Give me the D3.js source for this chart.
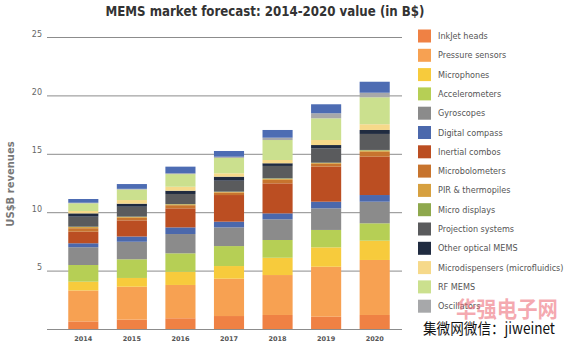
<html>
<head>
    <script src="https://d3js.org/d3.v7.min.js" charSet="utf-8"></script>
    <style>
        body { margin: 0; background: #fff; }
        .title { font-family: "DejaVu Sans", sans-serif; font-weight: bold; font-size: 14px; fill: #333; }
        .tick-label { font-family: "DejaVu Sans", sans-serif; font-size: 8px; fill: #666; }
        .year-label { font-family: "DejaVu Sans", sans-serif; font-weight: bold; font-size: 6.5px; fill: #555; }
        .axis-title { font-family: "DejaVu Sans", sans-serif; font-weight: bold; font-size: 10px; fill: #777; }
        .legend text { font-family: "DejaVu Sans", sans-serif; font-size: 8.1px; fill: #555; }
    </style>
</head>
<body>
<div id="vis_container"></div>
<script>
    // years on the x axis
    let years = ["2014", "2015", "2016", "2017", "2018", "2019", "2020"];

    // revenue per segment in B$, one array per series (bottom of the stack first)
    let inkjet_heads      = [0.65, 0.80, 0.92, 1.11, 1.20, 1.05, 1.20];
    let pressure_sensors  = [2.65, 2.82, 2.85, 3.20, 3.42, 4.28, 4.71];
    let microphones       = [0.75, 0.75, 1.13, 1.08, 1.48, 1.66, 1.65];
    let accelerometers    = [1.43, 1.60, 1.58, 1.71, 1.52, 1.49, 1.49];
    let gyroscopes        = [1.52, 1.50, 1.65, 1.60, 1.77, 1.85, 1.85];
    let digital_compass   = [0.34, 0.45, 0.57, 0.49, 0.51, 0.57, 0.57];
    let inertial_combos   = [0.99, 1.38, 1.63, 2.28, 2.57, 3.00, 3.28];
    let microbolometers   = [0.30, 0.22, 0.27, 0.20, 0.30, 0.24, 0.42];
    let pir_thermopiles   = [0.10, 0.07, 0.07, 0.06, 0.09, 0.07, 0.11];
    let micro_displays    = [0.03, 0.03, 0.03, 0.03, 0.04, 0.03, 0.05];
    let projection        = [0.86, 0.85, 0.86, 0.94, 1.06, 1.23, 1.37];
    let other_optical     = [0.28, 0.26, 0.28, 0.34, 0.23, 0.28, 0.34];
    let microdispensers   = [0.20, 0.31, 0.34, 0.29, 0.28, 0.43, 0.49];
    let rf_mems           = [0.66, 0.90, 1.08, 1.32, 1.71, 1.86, 2.31];
    let oscillators       = [0.05, 0.06, 0.07, 0.10, 0.20, 0.43, 0.39];
    let others            = [0.32, 0.41, 0.57, 0.49, 0.66, 0.77, 0.94]; // legend row hidden by watermark

    let series_names = ["InkJet heads", "Pressure sensors", "Microphones", "Accelerometers",
        "Gyroscopes", "Digital compass", "Inertial combos", "Microbolometers",
        "PIR & thermopiles", "Micro displays", "Projection systems", "Other optical MEMS",
        "Microdispensers (microfluidics)", "RF MEMS", "Oscillators", "Others"];
    let series_values = [inkjet_heads, pressure_sensors, microphones, accelerometers,
        gyroscopes, digital_compass, inertial_combos, microbolometers,
        pir_thermopiles, micro_displays, projection, other_optical,
        microdispensers, rf_mems, oscillators, others];
    let y_ticks = [5, 10, 15, 20, 25];

    let colors = ["#ef8144", "#f7a152", "#f7cb3c", "#b6cf55", "#8b8b8b", "#4b68ac",
        "#bb4e22", "#c7742e", "#d6a040", "#8ea84d", "#5a5b5d", "#202b40",
        "#f6d98a", "#cbe08e", "#a7a8aa", "#4d6cb3"];

    let width = 565, height = 344;

    let svg = d3.select("#vis_container")
        .append("svg")
        .attr("width", width)
        .attr("height", height);

    // build the table for d3.stack
    let table = years.map(function(y, i) {
        let row = {year: y};
        series_names.forEach(function(name, j) { row[name] = series_values[j][i]; });
        return row;
    });
    let stacked = d3.stack().keys(series_names)(table);

    let x = d3.scaleBand()
        .domain(years)
        .range([60, 398])
        .paddingInner(0.38)
        .paddingOuter(0.17);

    let y = d3.scaleLinear()
        .domain([0, 25])
        .range([329, 37]);

    // title
    svg.append("text")
        .attr("class", "title")
        .attr("x", 265)
        .attr("y", 16)
        .attr("text-anchor", "middle")
        .attr("textLength", 319)
        .attr("lengthAdjust", "spacingAndGlyphs")
        .text("MEMS market forecast: 2014-2020 value (in B$)");

    // gridlines and tick labels
    svg.selectAll(".grid")
        .data([0].concat(y_ticks))
        .enter()
        .append("line")
        .attr("class", "grid")
        .attr("x1", 47)
        .attr("x2", 402)
        .attr("y1", function(d) { return y(d) + 0.5; })
        .attr("y2", function(d) { return y(d) + 0.5; })
        .style("stroke", "#8c8c8c")
        .style("stroke-width", 1);

    svg.selectAll(".tick-label")
        .data(y_ticks)
        .enter()
        .append("text")
        .attr("class", "tick-label")
        .attr("x", 42)
        .attr("y", function(d) { return y(d) - 0.5; })
        .attr("text-anchor", "end")
        .text(function(d) { return d; });

    // y axis title
    svg.append("text")
        .attr("class", "axis-title")
        .attr("transform", "translate(14," + 184 + ") rotate(-90)")
        .attr("text-anchor", "middle")
        .text("US$B revenues");

    // stacked bars
    let layers = svg.selectAll(".layer")
        .data(stacked)
        .enter()
        .append("g")
        .attr("class", "layer")
        .style("fill", function(d, i) { return colors[i]; });

    layers.selectAll("rect")
        .data(function(d) { return d; })
        .enter()
        .append("rect")
        .attr("x", function(d) { return x(d.data.year); })
        .attr("width", x.bandwidth())
        .attr("y", function(d) { return y(d[1]); })
        .attr("height", function(d) { return y(d[0]) - y(d[1]); });

    // year labels
    svg.selectAll(".year-label")
        .data(years)
        .enter()
        .append("text")
        .attr("class", "year-label")
        .attr("x", function(d) { return x(d) + x.bandwidth() / 2; })
        .attr("y", 341)
        .attr("text-anchor", "middle")
        .text(function(d) { return d; });

    // legend (15 visible rows)
    let legend = svg.append("g").attr("class", "legend");
    let rows = legend.selectAll("g")
        .data(series_names.slice(0, 15))
        .enter()
        .append("g")
        .attr("transform", function(d, i) { return "translate(418," + (36 + i * 19.3) + ")"; });

    rows.append("rect")
        .attr("x", 0)
        .attr("y", -6.5)
        .attr("width", 13)
        .attr("height", 13)
        .style("fill", function(d, i) { return colors[i]; });

    rows.append("text")
        .attr("x", 20)
        .attr("y", 3)
        .text(function(d) { return d; });

    // watermark texts sitting over the lower right corner
    svg.append("text")
        .attr("x", 456)
        .attr("y", 317)
        .attr("textLength", 102)
        .attr("lengthAdjust", "spacingAndGlyphs")
        .style("font-family", "Noto Sans CJK SC")
        .style("font-weight", "bold")
        .style("font-size", "22px")
        .style("fill", "#ee6f7a")
        .style("fill-opacity", 0.6)
        .text("华强电子网");

    svg.append("text")
        .attr("x", 423)
        .attr("y", 334)
        .attr("textLength", 132)
        .attr("lengthAdjust", "spacingAndGlyphs")
        .style("font-family", "Noto Sans CJK SC")
        .style("font-size", "15px")
        .style("fill", "#111")
        .text("集微网微信：jiweinet");
</script>
</body>
</html>
